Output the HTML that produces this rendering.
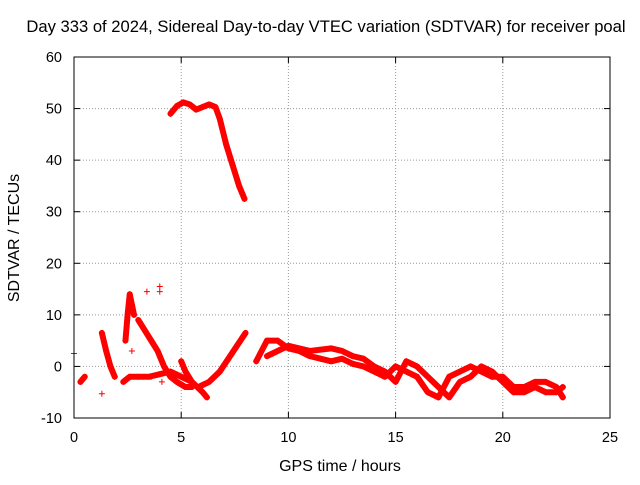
<!DOCTYPE html>
<html><head><meta charset="utf-8"><style>
body{margin:0;background:#fff}
svg{font-family:"Liberation Sans",sans-serif}
</style></head><body>
<svg id="chart" width="640" height="480">
<text x="326" y="32" font-size="16.6" text-anchor="middle">Day 333 of 2024, Sidereal Day-to-day VTEC variation (SDTVAR) for receiver poal</text>
<text x="340" y="471" font-size="16" text-anchor="middle">GPS time / hours</text>
<text transform="translate(19,238) rotate(-90)" font-size="16" text-anchor="middle">SDTVAR / TECUs</text>
<g id="grid"></g><g id="marks"></g>
<rect x="74" y="57" width="536" height="361" fill="none" stroke="#000"/>
</svg>
<script>
const xTicks=[0,5,10,15,20,25];
const yTicks=[-10,0,10,20,30,40,50,60];
const trackTop=[[4.5,49],[4.8,50.5],[5.1,51.2],[5.4,50.8],[5.7,49.8],[6.0,50.3],[6.3,50.8],[6.6,50.3],[6.8,48],[7.1,43],[7.4,39],[7.7,35],[7.95,32.5]];
const trackRise=[[5.8,-4],[6.3,-3],[6.8,-1],[7.2,1.5],[7.6,4],[8.0,6.5]];
const trackLateA=[[8.5,1],[9,5],[9.5,5],[10,3.5],[10.5,3],[11,2],[11.5,1.5],[12,1],[12.5,1.5],[13,0.5],[13.5,0],[14,-1],[14.5,-2],[15,0],[15.5,-1],[16,-2],[16.5,-5],[17,-6],[17.5,-2],[18,-1],[18.5,0],[19,-1],[19.5,-2],[20,-2],[20.5,-4],[21,-4],[21.5,-3],[22,-3],[22.5,-4],[22.8,-6]];
const trackLateB=[[9,2],[10,4],[11,3],[12,3.5],[12.5,3],[13,2],[13.5,1.5],[14,0],[14.5,-1],[15,-3],[15.5,1],[16,0],[16.5,-2],[17,-4],[17.5,-6],[18,-3],[18.5,-2],[19,0],[19.5,-1],[20,-3],[20.5,-5],[21,-5],[21.5,-4],[22,-5],[22.5,-5],[22.8,-4]];
const trackEarly1=[[0.3,-3],[0.4,-2.5],[0.5,-2]];
const trackEarly2=[[1.3,6.5],[1.5,3],[1.7,0],[1.9,-2]];
const trackEarly3=[[2.3,-3],[2.6,-2],[3,-2],[3.5,-2],[4,-1.5],[4.5,-1],[5,-2],[5.5,-3],[6,-5],[6.2,-6]];
const trackSpike=[[2.4,5],[2.5,10],[2.6,14],[2.7,12],[2.8,10]];
const trackFall=[[3,9],[3.3,7],[3.6,5],[3.9,3],[4.2,0],[4.5,-2],[4.8,-3],[5.2,-4],[5.5,-4]];
const trackHump=[[5,1],[5.2,-1],[5.5,-3]];
const isolated=[[0,2.5],[1.3,-5.3],[2.7,3],[3.4,14.5],[4,15.5],[4,14.5],[3.6,-2],[4.1,-3]];
const tracks=[trackTop,trackRise,trackLateA,trackLateB,trackEarly1,trackEarly2,trackEarly3,trackSpike,trackFall,trackHump];
const NS="http://www.w3.org/2000/svg";
const X=v=>74+v*536/25, Y=v=>418-(v+10)*361/70;
const grid=document.getElementById('grid'), marks=document.getElementById('marks');
function mk(p,t,a){const e=document.createElementNS(NS,t);for(const k in a)e.setAttribute(k,a[k]);p.appendChild(e);return e;}
xTicks.forEach(t=>{const x=X(t);
 if(t>0&&t<25){const l=mk(grid,'line',{x1:x,x2:x,y1:57,y2:418,stroke:'#999','stroke-dasharray':'1,2'});
 
 }
 mk(grid,'line',{x1:x,x2:x,y1:418,y2:412,stroke:'#000'});mk(grid,'line',{x1:x,x2:x,y1:57,y2:63,stroke:'#000'});
 const s=mk(grid,'text',{x:x,y:442,'font-size':14.5,'text-anchor':'middle'});s.textContent=t;
 
 });
yTicks.forEach(t=>{const y=Y(t);
 if(t>-10&&t<60){const l=mk(grid,'line',{x1:74,x2:610,y1:y,y2:y,stroke:'#999','stroke-dasharray':'1,2'});
 
 }
 mk(grid,'line',{x1:74,x2:80,y1:y,y2:y,stroke:'#000'});mk(grid,'line',{x1:610,x2:604,y1:y,y2:y,stroke:'#000'});
 const s=mk(grid,'text',{x:62,y:y+5,'font-size':14.5,'text-anchor':'end'});s.textContent=t;
 
 });
function plus(x,y){const p=mk(marks,'path',{d:`M${x-3} ${y}h6M${x} ${y-3}v6`,stroke:'red','stroke-width':1});
 
 }
tracks.forEach(tr=>{const pl=mk(marks,'polyline',{points:tr.map(p=>X(p[0])+','+Y(p[1])).join(' '),fill:'none',stroke:'red','stroke-width':6,'stroke-linejoin':'round','stroke-linecap':'round'});
 
 
 tr.forEach(p=>plus(X(p[0]),Y(p[1])));});
isolated.forEach(p=>plus(X(p[0]),Y(p[1])));
</script>
</body></html>
